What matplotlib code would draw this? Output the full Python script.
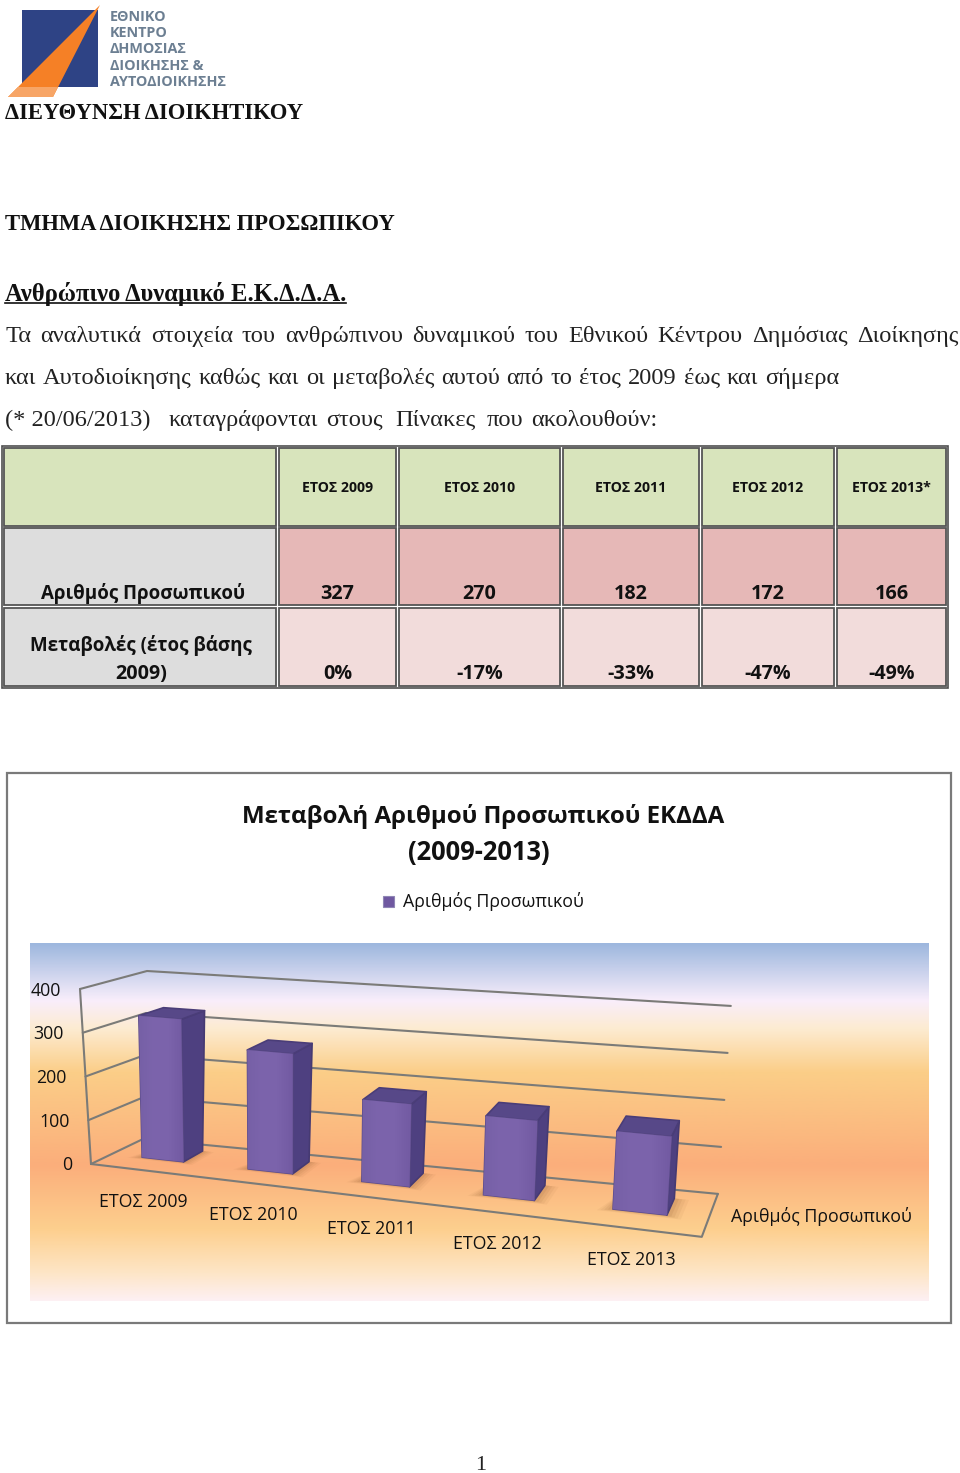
import matplotlib
matplotlib.use("Agg")
import matplotlib.pyplot as plt
import numpy as np
from matplotlib.colors import LinearSegmentedColormap
from matplotlib.patches import Polygon, Rectangle

SANS = "Open Sans"
SERIF = "Liberation Serif"

# data
years = ["ΕΤΟΣ 2009", "ΕΤΟΣ 2010", "ΕΤΟΣ 2011", "ΕΤΟΣ 2012", "ΕΤΟΣ 2013*"]
chart_years = ["ΕΤΟΣ 2009", "ΕΤΟΣ 2010", "ΕΤΟΣ 2011", "ΕΤΟΣ 2012", "ΕΤΟΣ 2013"]
staff = [327, 270, 182, 172, 166]
changes = ["0%", "-17%", "-33%", "-47%", "-49%"]
ticks = [0, 100, 200, 300, 400]
series_name = "Αριθμός Προσωπικού"
logo_lines = ["ΕΘΝΙΚΟ", "ΚΕΝΤΡΟ", "ΔΗΜΟΣΙΑΣ", "ΔΙΟΙΚΗΣΗΣ &", "ΑΥΤΟΔΙΟΙΚΗΣΗΣ"]

fig = plt.figure(figsize=(9.6, 14.73), dpi=100)
ax = fig.add_axes([0, 0, 1, 1])
ax.set_xlim(0, 960)
ax.set_ylim(1473, 0)
ax.autoscale(False)
ax.axis("off")

# ---- logo
ax.add_patch(Rectangle((22, 10), 76, 77, fc="#2E4385", ec="none"))
ax.add_patch(Polygon([(100, 5), (8, 97), (53, 97)], fc="#F58026", ec="none"))
ax.add_patch(Polygon([(8, 97), (53, 97), (58, 87), (18, 87)], fc="#F7A566", ec="none"))
for i, line in enumerate(logo_lines):
    ax.text(110, 21 + i * 16.2, line, fontsize=10.4, fontweight="bold", family=SANS,
            color="#6C7F92", va="baseline")

# ---- headings and body text
ax.text(5, 119, "ΔΙΕΥΘΥΝΣΗ ΔΙΟΙΚΗΤΙΚΟΥ", fontsize=16.3, fontweight="bold", family=SERIF, color="#111111")
ax.text(5, 230, "ΤΜΗΜΑ ΔΙΟΙΚΗΣΗΣ ΠΡΟΣΩΠΙΚΟΥ", fontsize=16.3, fontweight="bold", family=SERIF, color="#111111")
ax.text(5, 301, "Ανθρώπινο Δυναμικό Ε.Κ.Δ.Δ.Α.", fontsize=17.7, fontweight="bold", family=SERIF, color="#111111")
ax.plot([5, 346], [303, 303], color="#111111", lw=1.2)


def justified(text, x0, x1, y):
    # words spread out between x0 and x1, like the justified line in the document
    words = text.split()
    items = [ax.text(0, y, w, fontsize=17.6, family=SERIF, color="#222222") for w in words]
    rend = fig.canvas.get_renderer()
    widths = [t.get_window_extent(rend).width for t in items]
    gap = (x1 - x0 - sum(widths)) / (len(words) - 1)
    x = x0
    for t, w in zip(items, widths):
        t.set_x(x)
        x += w + gap


justified("Τα αναλυτικά στοιχεία του ανθρώπινου δυναμικού του Εθνικού Κέντρου Δημόσιας Διοίκησης", 5, 958, 342)
justified("και Αυτοδιοίκησης καθώς και οι μεταβολές αυτού από το έτος 2009 έως και σήμερα", 5, 839, 384)
ax.text(5, 426, "(* 20/06/2013)", fontsize=17.6, family=SERIF, color="#222222")
justified("καταγράφονται στους", 169, 383, 426)
ax.text(395, 426, "Πίνακες", fontsize=17.6, family=SERIF, color="#222222")
justified("που ακολουθούν:", 487, 657, 426)

# ---- table
col_edges = [(4, 276), (279, 396), (399, 560), (563, 699), (702, 834), (837, 946)]
row_edges = [(448, 526), (528, 605), (608, 686)]
row_colors = ["#D8E4BC", "#E6B8B7", "#F2DCDB"]
ax.add_patch(Rectangle((2, 446), 946, 242, fc="white", ec="#4F4F4F", lw=1.2))
for r, (y0, y1) in enumerate(row_edges):
    for c, (x0, x1) in enumerate(col_edges):
        color = row_colors[r] if (c > 0 or r == 0) else "#DDDDDD"
        ax.add_patch(Rectangle((x0, y0), x1 - x0, y1 - y0, fc=color, ec="#555555", lw=1.3))

for (x0, x1), year, n, ch in zip(col_edges[1:], years, staff, changes):
    xc = (x0 + x1) / 2
    ax.text(xc, 488, year, fontsize=10.2, fontweight="bold", family=SANS, color="#111111", ha="center", va="center")
    ax.text(xc, 599, str(n), fontsize=14.2, fontweight="bold", family=SANS, color="#111111", ha="center")
    ax.text(xc, 679, ch, fontsize=14.2, fontweight="bold", family=SANS, color="#111111", ha="center")
ax.text(143, 599, series_name, fontsize=13.5, fontweight="bold", family=SANS, color="#111111", ha="center")
ax.text(141, 651, "Μεταβολές (έτος βάσης", fontsize=13.5, fontweight="bold", family=SANS, color="#111111", ha="center")
ax.text(141, 679, "2009)", fontsize=14.2, fontweight="bold", family=SANS, color="#111111", ha="center")

# ---- chart frame
ax.add_patch(Rectangle((7, 773), 944, 550, fc="white", ec="#7A7A7A", lw=1.6))
ax.text(483, 823, "Μεταβολή Αριθμού Προσωπικού ΕΚΔΔΑ", fontsize=17.4, fontweight="bold", family=SANS,
        color="#111111", ha="center")
ax.text(479, 860, "(2009-2013)", fontsize=18.4, fontweight="bold", family=SANS, color="#111111", ha="center")
ax.add_patch(Rectangle((383, 896), 11, 11, fc="#6F58A0", ec="#8F86B5", lw=0.8))
ax.text(403, 907, series_name, fontsize=12.8, family=SANS, color="#111111")

# gradient background of the plot area
bg_stops = [(0.0, "#9DB7DE"), (0.16, "#F9EEFB"), (0.24, "#FDEBD0"), (0.36, "#FBCE88"),
            (0.62, "#FBAE7B"), (0.80, "#FDCF8E"), (0.92, "#FDE5C5"), (1.0, "#FDF0F3")]
bg_cmap = LinearSegmentedColormap.from_list("bg", bg_stops)
ax.imshow(np.linspace(0, 1, 256).reshape(-1, 1), cmap=bg_cmap, extent=(30, 929, 1301, 943),
          aspect="auto", zorder=1.5)

# corners of the 3D box on the page: [depth][value][width]
box = np.array([
    [[(91, 1164), (703, 1237)], [(80, 989), (715, 1045)]],
    [[(143, 1139), (719, 1194)], [(147, 971), (732, 1006)]],
], dtype=float)
max_tick = ticks[-1]


def project(t, d, value):
    # t = place along the category axis 0..1, d = depth 0..1
    u = 0.834 * t + 0.164 * t * t
    v = value / max_tick
    front = (box[0, 0, 0] * (1 - v) + box[0, 1, 0] * v) * (1 - u) + (box[0, 0, 1] * (1 - v) + box[0, 1, 1] * v) * u
    back = (box[1, 0, 0] * (1 - v) + box[1, 1, 0] * v) * (1 - u) + (box[1, 0, 1] * (1 - v) + box[1, 1, 1] * v) * u
    return front * (1 - d) + back * d


grid_style = dict(color="#7B7B78", lw=1.5, zorder=2, solid_capstyle="round")
for tick in ticks:
    pts = np.array([project(0, 0, tick), project(0, 1, tick), project(1, 1, tick)])
    ax.plot(pts[:, 0], pts[:, 1], **grid_style)
    p = project(0, 0, tick)
    ax.text(p[0] - 19, p[1] + 1.5, str(tick), fontsize=12.8, family=SANS, color="#111111",
            ha="right", va="center", zorder=5)
left_edge = np.array([project(0, 0, 0), project(0, 0, max_tick)])
ax.plot(left_edge[:, 0], left_edge[:, 1], **grid_style)
floor = np.array([project(0, 0, 0), project(1, 0, 0), project(1, 1, 0)])
ax.plot(floor[:, 0], floor[:, 1], **grid_style)

# bars
half_w = 0.04
d0, d1 = 0.4, 0.8
front_cmap = LinearSegmentedColormap.from_list("front", ["#7660A6", "#7C64AC", "#7B63AB", "#725AA2"])
for i, (n, year) in enumerate(zip(staff, chart_years)):
    t = (i + 0.5) / len(staff)
    tl, tr = t - half_w, t + half_w

    # soft shadow on the floor
    for grow, alpha in [(0.022, 0.06), (0.017, 0.07), (0.012, 0.09), (0.007, 0.11)]:
        shadow = [project(tl - grow, d0 - grow * 3, 0), project(tr + grow, d0 - grow * 3, 0),
                  project(tr + grow, d1, 0), project(tl, d1, 0)]
        ax.add_patch(Polygon(shadow, fc="#8A5A2E", ec="none", alpha=alpha, zorder=2.2))

    side = [project(tr, d0, 0), project(tr, d1, 0), project(tr, d1, n), project(tr, d0, n)]
    top = [project(tl, d0, n), project(tr, d0, n), project(tr, d1, n), project(tl, d1, n)]
    front = [project(tl, d0, 0), project(tr, d0, 0), project(tr, d0, n), project(tl, d0, n)]
    ax.add_patch(Polygon(side, fc="#4E4080", ec="#463A72", lw=1.2, joinstyle="round", zorder=3))
    ax.add_patch(Polygon(top, fc="#574888", ec="#4A3D78", lw=1.2, joinstyle="round", zorder=3))
    front_patch = Polygon(front, fc="#7A61AA", ec="#5C4C8A", lw=1.0, zorder=3.2)
    ax.add_patch(front_patch)
    xs = [p[0] for p in front]
    ys = [p[1] for p in front]
    im = ax.imshow(np.linspace(0, 1, 64).reshape(1, -1), cmap=front_cmap,
                   extent=(min(xs), max(xs), max(ys), min(ys)), aspect="auto", zorder=3.3)
    im.set_clip_path(front_patch)

    # category label under the floor edge
    p = project(t, 0, 0)
    ax.text(p[0], p[1] + 32, year, fontsize=12.8, family=SANS, color="#111111", ha="center", va="center", zorder=5)

ax.text(821, 1216, series_name, fontsize=12.8, family=SANS, color="#111111", ha="center", va="center", zorder=5)

# page number
ax.text(481, 1470, "1", fontsize=16, family=SERIF, color="#222222", ha="center")

fig.savefig("out.png", dpi=100)
